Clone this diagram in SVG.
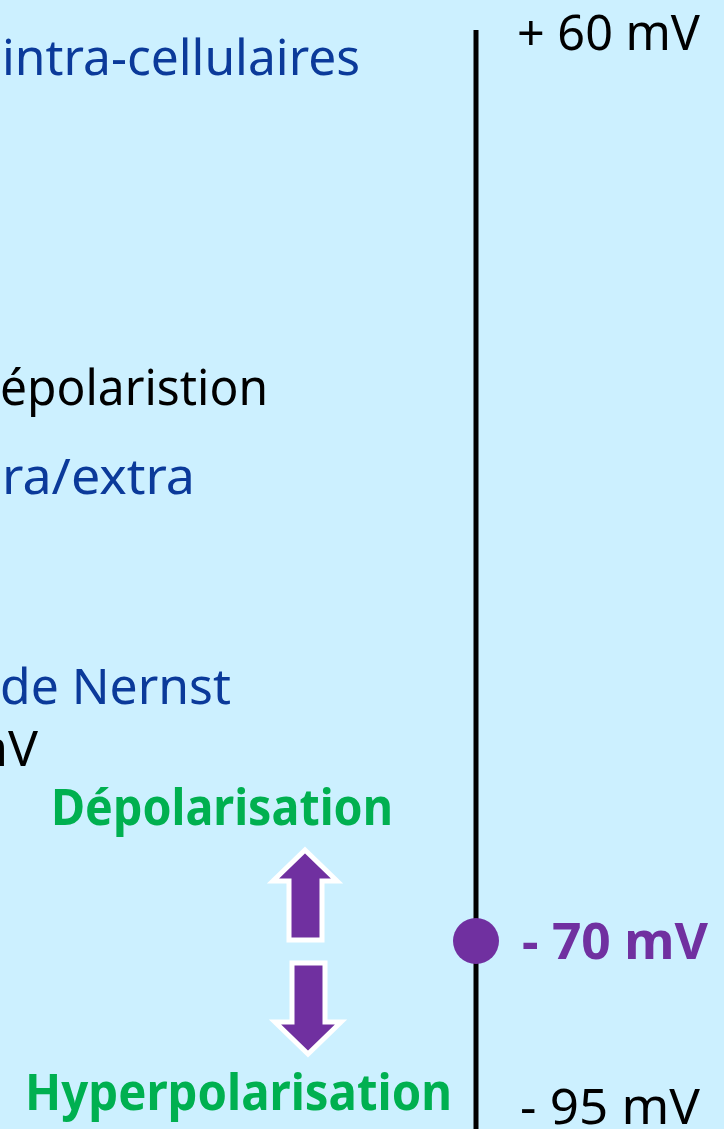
<svg xmlns="http://www.w3.org/2000/svg" width="724" height="1129" viewBox="0 0 724 1129">
  <style>
    text { font-family: "Noto Sans", "DejaVu Sans", sans-serif; font-size: 50px; }
    .blue { fill: #0B3A9A; }
    .black { fill: #000000; }
    .green { fill: #00B050; font-weight: bold; }
    .purple { fill: #7030A0; font-weight: bold; }
    .arrow { fill: #7030A0; stroke: #FFFFFF; stroke-width: 5; stroke-linejoin: miter; }
  </style>
  <rect width="724" height="1129" fill="#CCF0FF"/>

  <!-- left-hand text lines -->
  <g id="labels-left">
    <text class="blue" x="2" y="75" textLength="358" lengthAdjust="spacingAndGlyphs">intra-cellulaires</text>
    <text class="black" x="0" y="405" textLength="268" lengthAdjust="spacingAndGlyphs">épolaristion</text>
    <text class="blue" x="2" y="494" textLength="193" lengthAdjust="spacingAndGlyphs">ra/extra</text>
    <text class="blue" x="0" y="704" textLength="231" lengthAdjust="spacingAndGlyphs">de Nernst</text>
    <text class="black" x="38" y="766" text-anchor="end">mV</text>
  </g>

  <!-- membrane potential scale -->
  <g id="axis">
    <line x1="476" y1="30" x2="476" y2="1129" stroke="#000000" stroke-width="5"/>
  </g>
  <g id="tick-plus60">
    <text class="black" x="517" y="50" textLength="183" lengthAdjust="spacingAndGlyphs">+ 60 mV</text>
  </g>
  <g id="rest-potential">
    <circle cx="476" cy="941" r="23" fill="#7030A0"/>
    <text class="purple" x="522" y="959" textLength="186" lengthAdjust="spacingAndGlyphs">- 70 mV</text>
  </g>
  <g id="tick-minus95">
    <text class="black" x="520" y="1124" textLength="180" lengthAdjust="spacingAndGlyphs">- 95 mV</text>
  </g>

  <!-- direction arrows -->
  <g id="depolarisation">
    <text class="green" x="51" y="825" textLength="342" lengthAdjust="spacingAndGlyphs">Dépolarisation</text>
    <path class="arrow" d="M305,850 L337,881 L322,881 L322,940 L289,940 L289,881 L273,881 Z"/>
  </g>
  <g id="hyperpolarisation">
    <path class="arrow" d="M292,963 L325,963 L325,1022 L341,1022 L308,1054 L275,1022 L292,1022 Z"/>
    <text class="green" x="25" y="1110" textLength="427" lengthAdjust="spacingAndGlyphs">Hyperpolarisation</text>
  </g>
</svg>
